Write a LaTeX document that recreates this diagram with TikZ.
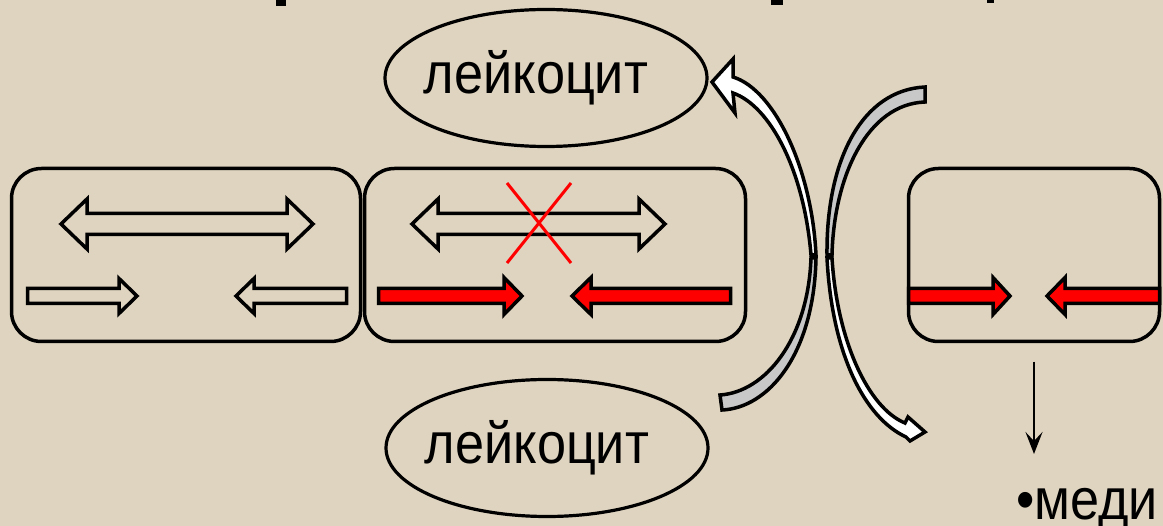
\documentclass[tikz,border=0pt]{standalone}
\usepackage{graphicx}
\usepackage{fontspec}
\setmainfont{Liberation Sans}
\usetikzlibrary{arrows.meta, positioning, shapes.geometric}

\definecolor{paper}{RGB}{223,212,191}
\definecolor{ribbon}{RGB}{200,200,200}

\tikzset{
  cellbox/.style={draw, line width=3.5pt, rounded corners=30pt, inner sep=0pt},
  cellname/.style={draw, ellipse, line width=3.2pt, inner sep=0pt, minimum width=322pt, minimum height=137pt},
  bigtext/.style={font=\fontsize{58}{64}\selectfont},
  hollow/.style={draw, line width=3.5pt, line join=miter},
  redbar/.style={draw, fill=red, line width=3.5pt, line join=miter},
  ribbonback/.style={draw, fill=ribbon, line width=3.5pt, line join=miter},
  ribbonfront/.style={draw, fill=white, line width=3.5pt, line join=miter},
}

% block arrow: [style]{tail x}{tip x}{y}{shaft half}{head half}{head length}
\newcommand{\blockarrow}[7][hollow]{%
  \path[#1] (#2,{#4-#5}) -- ({#3-(#7)},{#4-#5}) -- ({#3-(#7)},{#4-#6}) -- (#3,#4)
    -- ({#3-(#7)},{#4+#6}) -- ({#3-(#7)},{#4+#5}) -- (#2,{#4+#5}) -- cycle;}
% double arrow: {left tip}{right tip}{y}{shaft half}{head half}{head length}
\newcommand{\twinarrow}[6]{%
  \path[hollow] (#1,#3) -- ({#1+#6},{#3-#5}) -- ({#1+#6},{#3-#4}) -- ({#2-#6},{#3-#4})
    -- ({#2-#6},{#3-#5}) -- (#2,#3) -- ({#2-#6},{#3+#5}) -- ({#2-#6},{#3+#4})
    -- ({#1+#6},{#3+#4}) -- ({#1+#6},{#3+#5}) -- cycle;}

\begin{document}
\begin{tikzpicture}[x=1pt, y=-1pt]
    \useasboundingbox (0,0) rectangle (1163,526);
    \fill[paper] (0,0) rectangle (1163,526);

    % cut-off title
    \fill (276,0) rectangle (286,6);
    \fill (771,0) rectangle (783,5);
    \fill (987,0) rectangle (994,3);

    % cells
    \node[cellbox, minimum width=349pt, minimum height=173pt] (cellA) at (186,255) {};
    \node[cellbox, minimum width=381pt, minimum height=173pt] (cellB) at (555,255) {};
    \node[cellbox, minimum width=251pt, minimum height=173pt] (cellC) at (1034,255) {};

    % first cell
    \twinarrow{61}{313}{224}{10.5}{25}{26}
    \blockarrow{27.5}{137}{296}{7.5}{17.5}{18}
    \blockarrow{346.5}{236}{296}{7.5}{17.5}{-18}

    % second cell
    \twinarrow{412}{665}{224}{10.5}{25}{26}
    \draw[red, line width=3pt] (507,183) -- (571,263) (571,183) -- (507,263);
    \blockarrow[redbar]{378.5}{522}{296}{7.5}{18.5}{18}
    \blockarrow[redbar]{730.5}{572}{296}{7.5}{18.5}{-19}

    % third cell
    \blockarrow[redbar]{908.5}{1010}{296}{7.5}{18.5}{17}
    \blockarrow[redbar]{1159.5}{1047}{296}{7.5}{18.5}{-18}

    % leukocytes
    \node[cellname, label={[bigtext, xshift=-10pt]center:\scalebox{0.9}[1]{лейкоцит}}] (lkTop) at (546,78) {};
    \node[cellname, label={[bigtext, xshift=-10pt]center:\scalebox{0.9}[1]{лейкоцит}}] (lkBot) at (547,448) {};

    % curved arrows
    \path[ribbonback] (811,258) .. controls (808,340) and (765,392) .. (720,395)
        -- (722,410) .. controls (768,408) and (814,355) .. (816,258) -- cycle;
    \path[ribbonfront] (816,255) .. controls (812,170) and (775,90) .. (733,77)
        -- (733,59) -- (712,82) -- (735,113) -- (733,93)
        .. controls (770,106) and (804,170) .. (811,255) -- cycle;
    \path[ribbonback] (925,87) .. controls (862,90) and (826,160) .. (827,255)
        -- (832,255) .. controls (834,175) and (868,104) .. (925,102) -- cycle;
    \path[ribbonfront] (827,258) .. controls (832,355) and (865,418) .. (906,437)
        -- (910,441) -- (925,432) -- (908,417) -- (905,423)
        .. controls (868,408) and (837,340) .. (832,258) -- cycle;

    % mediators
    \node[bigtext, anchor=base west, inner sep=0pt] (medi) at (1016,520) {\scalebox{0.9}[1]{•меди}};
    \coordinate (mediTop) at (1034,454);
    \draw[-{Stealth[length=22pt, width=17pt, inset=9pt]}, line width=2.5pt] ([yshift=-18.5pt]cellC.south) -- (mediTop);
\end{tikzpicture}
\end{document}
